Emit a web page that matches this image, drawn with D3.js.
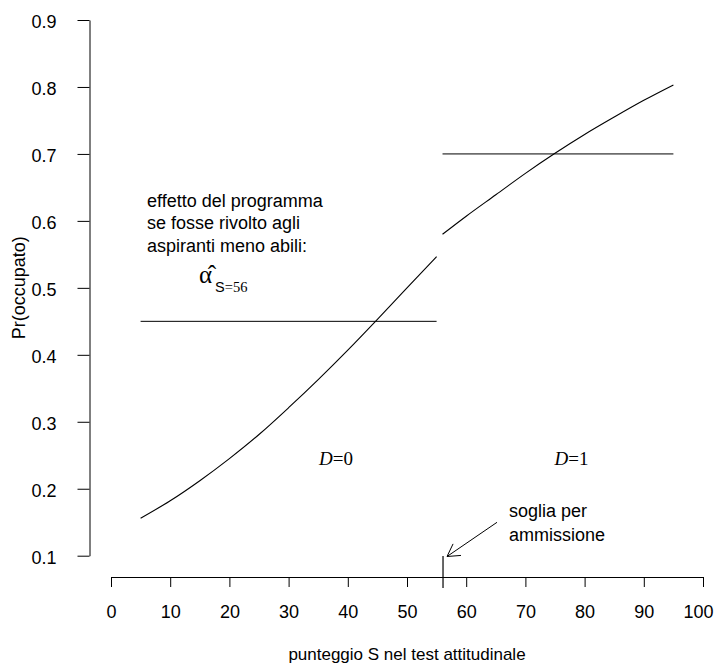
<!DOCTYPE html>
<html>
<head>
<meta charset="utf-8">
<script src="https://cdn.jsdelivr.net/npm/d3@7"></script>
<style>
  html, body { margin: 0; padding: 0; background: #fff; }
  svg { display: block; }
  text { fill: #000; }
</style>
</head>
<body>
<svg id="chart" width="715" height="664"></svg>
<script>
// ---- data ----
const xTicks = [0, 10, 20, 30, 40, 50, 60, 70, 80, 90, 100];
const yTicks = [0.1, 0.2, 0.3, 0.4, 0.5, 0.6, 0.7, 0.8, 0.9];

// left branch (D = 0), score S and Pr(occupato)
const leftS = [5, 10, 15, 20, 25, 30, 35, 40, 45, 50, 55];
const leftP = [0.156, 0.182, 0.212, 0.245, 0.281, 0.321, 0.363, 0.407, 0.453, 0.500, 0.5465];

// right branch (D = 1)
const rightS = [56, 60, 65, 70, 75, 80, 85, 90, 95];
const rightP = [0.580, 0.607, 0.639, 0.671, 0.701, 0.729, 0.755, 0.780, 0.803];

// horizontal reference levels
const levelLeft  = { s0: 5,  s1: 55, p: 0.45 };
const levelRight = { s0: 56, s1: 95, p: 0.70 };

const threshold = 56;
const infoLines = ["effetto del programma", "se fosse rivolto agli", "aspiranti meno abili:"];
const xTitle = "punteggio S nel test attitudinale";
const yTitle = "Pr(occupato)";

// ---- drawing ----
const svg = d3.select("#chart");
const x = d3.scaleLinear().domain([0, 100]).range([111, 703]);
const y = d3.scaleLinear().domain([0.1, 0.9]).range([555.7, 20]);

const sans = "'Liberation Sans', Arial, Helvetica, sans-serif";
const serif = "'Liberation Serif', 'Times New Roman', serif";

// x axis
const gx = svg.append("g")
  .attr("transform", "translate(0,577)")
  .call(d3.axisBottom(x).tickValues(xTicks).tickSize(10).tickSizeOuter(0).tickPadding(18));
// y axis
const gy = svg.append("g")
  .attr("transform", "translate(89.5,0)")
  .call(d3.axisLeft(y).tickValues(yTicks).tickFormat(d3.format(".1f")).tickSize(12).tickSizeOuter(0).tickPadding(21));

[gx, gy].forEach(g => {
  g.select(".domain").attr("stroke", "#000");
  g.selectAll(".tick line").attr("stroke", "#000");
  g.selectAll(".tick text").attr("font-family", sans).attr("font-size", 18).attr("fill", "#000");
});
gy.selectAll(".tick text").attr("dy", "0.42em");
// keep the last label inside the frame as in the reference
gx.selectAll(".tick text").filter(d => d === 100).attr("dx", -5);

// axis titles
svg.append("text")
  .attr("x", (x.range()[0] + x.range()[1]) / 2)
  .attr("y", 659.5)
  .attr("text-anchor", "middle")
  .attr("font-family", sans).attr("font-size", 17)
  .text(xTitle);

svg.append("text")
  .attr("transform", `translate(25,${(y.range()[0] + y.range()[1]) / 2}) rotate(-90)`)
  .attr("text-anchor", "middle")
  .attr("font-family", sans).attr("font-size", 18)
  .text(yTitle);

// curves
const line = d3.line().x(d => x(d[0])).y(d => y(d[1])).curve(d3.curveMonotoneX);
svg.append("path")
  .datum(leftS.map((s, i) => [s, leftP[i]]))
  .attr("d", line).attr("fill", "none").attr("stroke", "#000").attr("stroke-width", 1.1);
svg.append("path")
  .datum(rightS.map((s, i) => [s, rightP[i]]))
  .attr("d", line).attr("fill", "none").attr("stroke", "#000").attr("stroke-width", 1.1);

// horizontal levels
[levelLeft, levelRight].forEach(l => {
  svg.append("line")
    .attr("x1", x(l.s0)).attr("x2", x(l.s1))
    .attr("y1", y(l.p)).attr("y2", y(l.p))
    .attr("stroke", "#000").attr("stroke-width", 1);
});

// threshold mark on the x axis
svg.append("line")
  .attr("x1", x(threshold) + 0.5).attr("x2", x(threshold) + 0.5)
  .attr("y1", 556).attr("y2", 588)
  .attr("stroke", "#000").attr("stroke-width", 1.2);

// arrow to the threshold
const tail = [x(threshold) + 54.5, 522.3];
const tip = [x(threshold) + 4.5, 556.5];
svg.append("line")
  .attr("x1", tail[0]).attr("y1", tail[1]).attr("x2", tip[0]).attr("y2", tip[1])
  .attr("stroke", "#000").attr("stroke-width", 1);
const ang = Math.atan2(tail[1] - tip[1], tail[0] - tip[0]);
const hl = 14, ha = Math.PI / 6;
[ang + ha, ang - ha].forEach(a => {
  svg.append("line")
    .attr("x1", tip[0]).attr("y1", tip[1])
    .attr("x2", tip[0] + hl * Math.cos(a)).attr("y2", tip[1] + hl * Math.sin(a))
    .attr("stroke", "#000").attr("stroke-width", 1);
});

// threshold text
svg.append("text").attr("x", 509).attr("y", 517)
  .attr("font-family", sans).attr("font-size", 18).text("soglia per");
svg.append("text").attr("x", 509).attr("y", 541)
  .attr("font-family", sans).attr("font-size", 18).text("ammissione");

// explanatory text
infoLines.forEach((t, i) => {
  svg.append("text").attr("x", 147).attr("y", 207 + i * 22.3)
    .attr("font-family", sans).attr("font-size", 18).text(t);
});

// alpha hat with subscript
const al = svg.append("text").attr("x", 199).attr("y", 283);
al.append("tspan").attr("font-family", serif).attr("font-size", 25).text("\u03B1\u0302");
al.append("tspan").attr("font-family", sans).attr("font-size", 14.5).attr("dx", 3).attr("dy", 9).text("S");
al.append("tspan").attr("font-family", serif).attr("font-size", 14.5).text("=56");

// D labels
function dLabel(sx, val) {
  const t = svg.append("text").attr("x", x(sx)).attr("y", 465)
    .attr("text-anchor", "middle").attr("font-family", serif).attr("font-size", 19);
  t.append("tspan").attr("font-style", "italic").text("D");
  t.append("tspan").text("=" + val);
}
dLabel(38, 0);
dLabel(77.8, 1);
</script>
</body>
</html>
